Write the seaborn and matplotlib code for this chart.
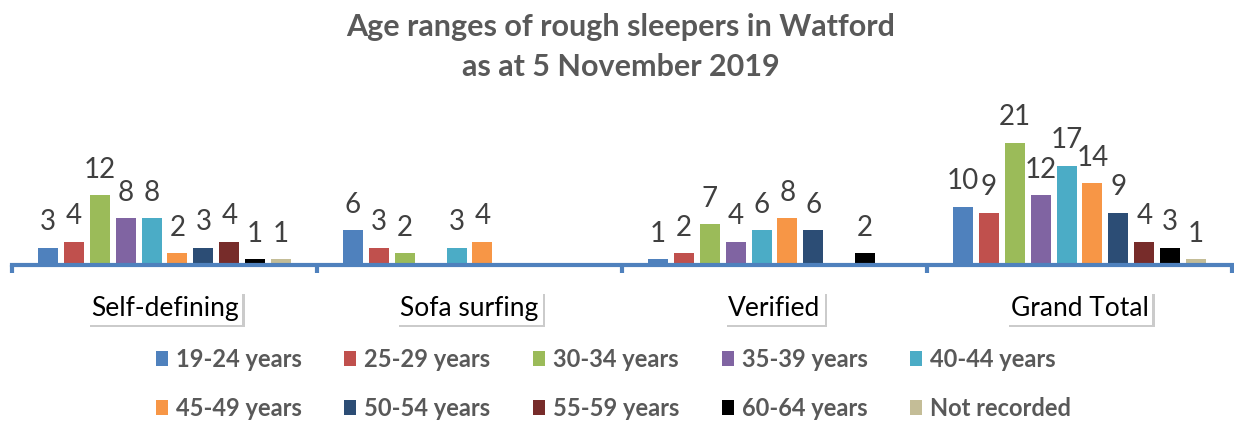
import seaborn as sns
import pandas as pd
import matplotlib.pyplot as plt
from matplotlib.patches import Patch
import matplotlib.patheffects as pe

# dados
categorias = ['Self-defining', 'Sofa surfing', 'Verified', 'Grand Total']
faixas = ['19-24 years', '25-29 years', '30-34 years', '35-39 years', '40-44 years',
          '45-49 years', '50-54 years', '55-59 years', '60-64 years', 'Not recorded']
self_defining = [3, 4, 12, 8, 8, 2, 3, 4, 1, 1]
sofa_surfing = [6, 3, 2, 0, 3, 4, 0, 0, 0, 0]
verified = [1, 2, 7, 4, 6, 8, 6, 0, 2, 0]
grand_total = [10, 9, 21, 12, 17, 14, 9, 4, 3, 1]
cores = ['#4F81BD', '#C0504D', '#9BBB59', '#8064A2', '#4BACC6',
         '#F79646', '#2C4D75', '#772C2A', '#000000', '#C4BD97']

linhas = []
for cat, vals in zip(categorias, [self_defining, sofa_surfing, verified, grand_total]):
    for faixa, v in zip(faixas, vals):
        linhas.append({'Categoria': cat, 'Faixa': faixa, 'Pessoas': v})
df = pd.DataFrame(linhas)

sns.set_style('white')
plt.rcParams['font.family'] = ['Lato', 'DejaVu Sans']

fig = plt.figure(figsize=(12.34, 4.23), dpi=100)
ax = fig.add_axes([12 / 1234, 1 - 265 / 423, 1220 / 1234, 165 / 423])

sns.barplot(data=df, x='Categoria', y='Pessoas', hue='Faixa', order=categorias,
            hue_order=faixas, palette=cores, saturation=1, width=0.85, gap=0.23,
            linewidth=0, legend=False, ax=ax)

for cont in ax.containers:
    labels = [str(int(b.get_height())) if b.get_height() > 0 else '' for b in cont]
    ax.bar_label(cont, labels=labels, padding=9, fontsize=20, color='#404040')

ax.set_xlim(-0.5, 3.5)
ax.set_ylim(0, 28.3)
ax.set_xlabel('')
ax.set_ylabel('')
ax.set_yticks([])
for s in ['left', 'top', 'right']:
    ax.spines[s].set_visible(False)
ax.spines['bottom'].set_color('#4F81BD')
ax.spines['bottom'].set_linewidth(3)

# ticks nas divisas das categorias
ax.set_xticks([-0.5, 0.5, 1.5, 2.5, 3.5], minor=True)
ax.tick_params(axis='x', which='minor', length=6, width=3, color='#4F81BD', direction='out', bottom=True)
ax.tick_params(axis='x', which='major', length=0, pad=22, labelsize=19, labelcolor='black', bottom=True)
for t in ax.get_xticklabels():
    t.set_bbox(dict(boxstyle='square,pad=0.15', fc='white', ec='none'))
    t.get_bbox_patch().set_path_effects([pe.withSimplePatchShadow(offset=(2, -2), shadow_rgbFace='#999999', alpha=0.5)])

fig.text(0.503, 1 - 47 / 423, 'Age ranges of rough sleepers in Watford\nas at 5 November 2019',
         ha='center', va='center', fontsize=22, fontweight='bold', color='#595959', linespacing=1.5)

# legenda preenchida por linha
ordem = [0, 5, 1, 6, 2, 7, 3, 8, 4, 9]
handles = [Patch(facecolor=cores[i], edgecolor='none') for i in ordem]
fig.legend(handles, [faixas[i] for i in ordem], ncol=5, loc='upper left',
           bbox_to_anchor=(144 / 1234, 1 - 336 / 423),
           frameon=False, borderpad=0, handlelength=0.5, handleheight=0.6, handletextpad=0.35,
           columnspacing=1.8, labelspacing=1.1,
           prop={'size': 17, 'weight': 'bold'}, labelcolor='#595959')

plt.savefig('out.png', dpi=100)
